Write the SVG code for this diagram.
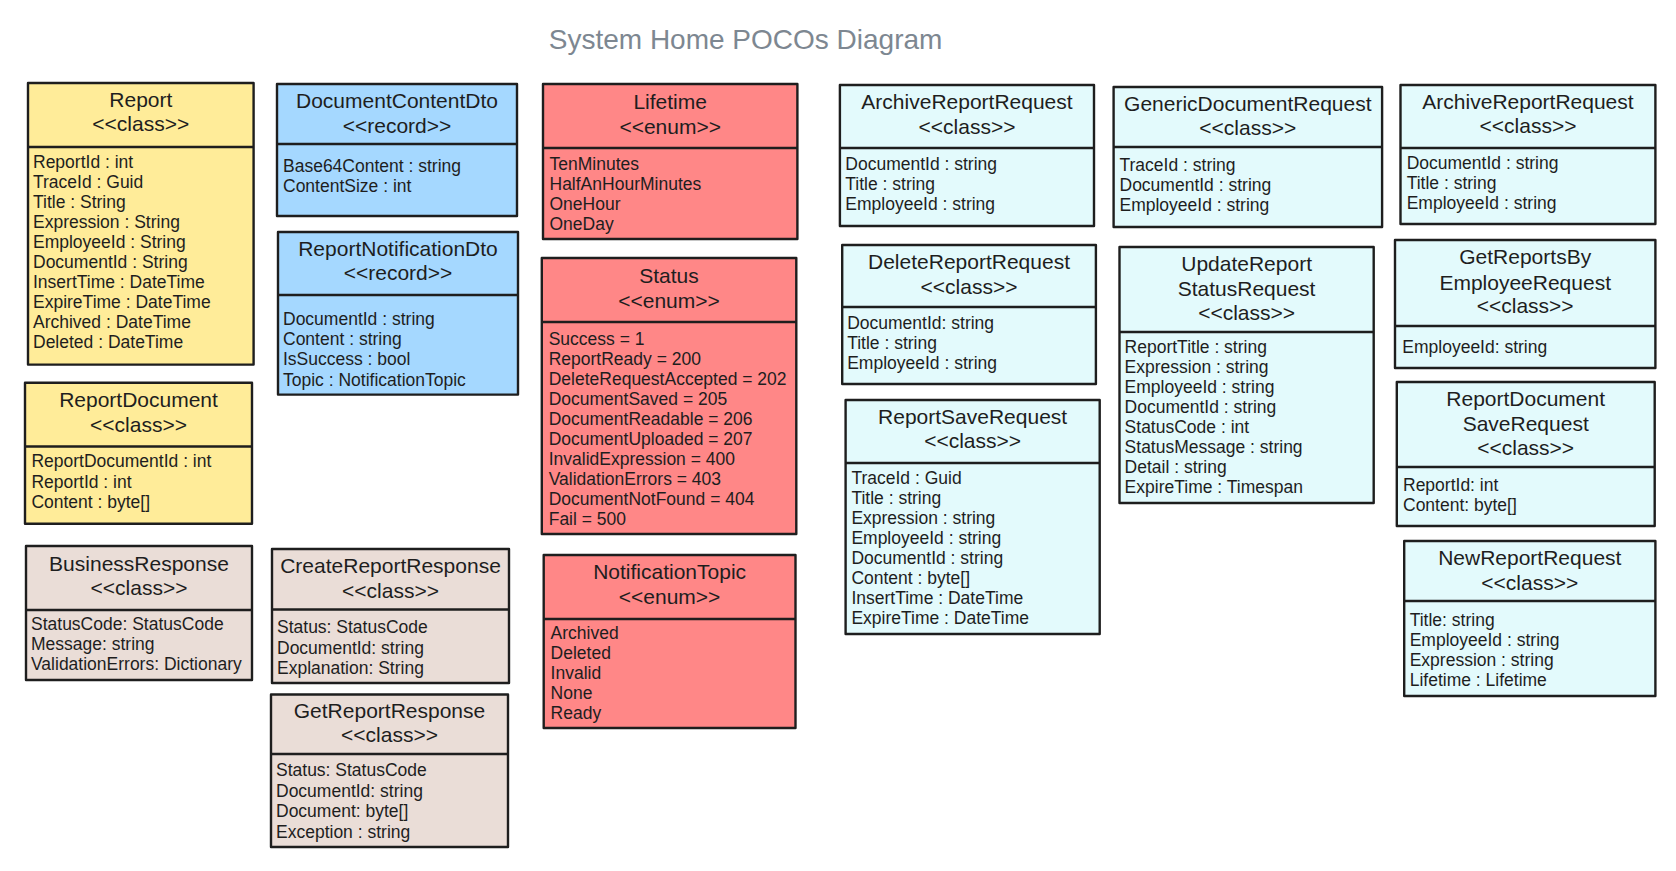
<svg xmlns="http://www.w3.org/2000/svg" width="1676" height="871" viewBox="0 0 1676 871">
<style>
.box{stroke:#1e1e1e;stroke-width:2.4;stroke-linejoin:round}
.div{stroke:#1e1e1e;stroke-width:2.4}
.yel{fill:#ffec99}.blu{fill:#a5d8ff}.red{fill:#ff8787}.cyn{fill:#e3fafc}.brn{fill:#eaddd7}
text{font-family:"Liberation Sans",Arial,sans-serif;fill:#1e1e1e}
.hd{font-size:21px;text-anchor:middle}
.at{font-size:17.5px}
.ttl{font-size:28px;fill:#7d8791;text-anchor:middle}
</style>
<rect width="1676" height="871" fill="#ffffff"/>
<text class="ttl" x="745.6" y="49">System Home POCOs Diagram</text>
<g id="connectors"/>

<g id="Report">
<rect class="box yel" x="28" y="83" width="225.6" height="281.6"/>
<line class="div" x1="28" y1="147" x2="253.6" y2="147"/>
<text class="hd" x="140.8" y="107">Report</text>
<text class="hd" x="140.8" y="131">&lt;&lt;class&gt;&gt;</text>
<text class="at" x="33" y="168">ReportId : int</text>
<text class="at" x="33" y="188">TraceId : Guid</text>
<text class="at" x="33" y="208">Title : String</text>
<text class="at" x="33" y="228">Expression : String</text>
<text class="at" x="33" y="248">EmployeeId : String</text>
<text class="at" x="33" y="268">DocumentId : String</text>
<text class="at" x="33" y="288">InsertTime : DateTime</text>
<text class="at" x="33" y="308">ExpireTime : DateTime</text>
<text class="at" x="33" y="328">Archived : DateTime</text>
<text class="at" x="33" y="348">Deleted : DateTime</text>
</g>

<g id="ReportDocument">
<rect class="box yel" x="25" y="382.7" width="227" height="141"/>
<line class="div" x1="25" y1="446.5" x2="252" y2="446.5"/>
<text class="hd" x="138.5" y="407">ReportDocument</text>
<text class="hd" x="138.5" y="432">&lt;&lt;class&gt;&gt;</text>
<text class="at" x="31.4" y="467">ReportDocumentId : int</text>
<text class="at" x="31.4" y="487.5">ReportId : int</text>
<text class="at" x="31.4" y="507.5">Content : byte[]</text>
</g>

<g id="BusinessResponse">
<rect class="box brn" x="26" y="546" width="226" height="134"/>
<line class="div" x1="26" y1="610" x2="252" y2="610"/>
<text class="hd" x="139" y="570.5">BusinessResponse</text>
<text class="hd" x="139" y="595">&lt;&lt;class&gt;&gt;</text>
<text class="at" x="31" y="629.5">StatusCode: StatusCode</text>
<text class="at" x="31" y="650">Message: string</text>
<text class="at" x="31" y="669.5">ValidationErrors: Dictionary</text>
</g>

<g id="DocumentContentDto">
<rect class="box blu" x="277" y="84" width="240" height="132"/>
<line class="div" x1="277" y1="144" x2="517" y2="144"/>
<text class="hd" x="397" y="108">DocumentContentDto</text>
<text class="hd" x="397" y="133">&lt;&lt;record&gt;&gt;</text>
<text class="at" x="283" y="172">Base64Content : string</text>
<text class="at" x="283" y="192">ContentSize : int</text>
</g>

<g id="ReportNotificationDto">
<rect class="box blu" x="278" y="232" width="240" height="162.6"/>
<line class="div" x1="278" y1="295" x2="518" y2="295"/>
<text class="hd" x="398" y="256">ReportNotificationDto</text>
<text class="hd" x="398" y="280">&lt;&lt;record&gt;&gt;</text>
<text class="at" x="283" y="325">DocumentId : string</text>
<text class="at" x="283" y="345">Content : string</text>
<text class="at" x="283" y="364.5">IsSuccess : bool</text>
<text class="at" x="283" y="385.5">Topic : NotificationTopic</text>
</g>

<g id="CreateReportResponse">
<rect class="box brn" x="272" y="549" width="237" height="134"/>
<line class="div" x1="272" y1="609.5" x2="509" y2="609.5"/>
<text class="hd" x="390.5" y="573">CreateReportResponse</text>
<text class="hd" x="390.5" y="598">&lt;&lt;class&gt;&gt;</text>
<text class="at" x="277" y="633">Status: StatusCode</text>
<text class="at" x="277" y="653.5">DocumentId: string</text>
<text class="at" x="277" y="674">Explanation: String</text>
</g>

<g id="GetReportResponse">
<rect class="box brn" x="271" y="694.5" width="237" height="152.5"/>
<line class="div" x1="271" y1="754" x2="508" y2="754"/>
<text class="hd" x="389.5" y="718">GetReportResponse</text>
<text class="hd" x="389.5" y="742">&lt;&lt;class&gt;&gt;</text>
<text class="at" x="276" y="776">Status: StatusCode</text>
<text class="at" x="276" y="796.5">DocumentId: string</text>
<text class="at" x="276" y="817">Document: byte[]</text>
<text class="at" x="276" y="837.5">Exception : string</text>
</g>

<g id="Lifetime">
<rect class="box red" x="543" y="84" width="254.4" height="155"/>
<line class="div" x1="543" y1="148" x2="797.4" y2="148"/>
<text class="hd" x="670.2" y="109">Lifetime</text>
<text class="hd" x="670.2" y="134">&lt;&lt;enum&gt;&gt;</text>
<text class="at" x="549.5" y="170">TenMinutes</text>
<text class="at" x="549.5" y="190">HalfAnHourMinutes</text>
<text class="at" x="549.5" y="210">OneHour</text>
<text class="at" x="549.5" y="230">OneDay</text>
</g>

<g id="Status">
<rect class="box red" x="541.8" y="258" width="254.5" height="276"/>
<line class="div" x1="541.8" y1="322" x2="796.3" y2="322"/>
<text class="hd" x="669" y="283">Status</text>
<text class="hd" x="669" y="308">&lt;&lt;enum&gt;&gt;</text>
<text class="at" x="548.7" y="345">Success = 1</text>
<text class="at" x="548.7" y="365">ReportReady = 200</text>
<text class="at" x="548.7" y="385">DeleteRequestAccepted = 202</text>
<text class="at" x="548.7" y="405">DocumentSaved = 205</text>
<text class="at" x="548.7" y="425">DocumentReadable = 206</text>
<text class="at" x="548.7" y="445">DocumentUploaded = 207</text>
<text class="at" x="548.7" y="465">InvalidExpression = 400</text>
<text class="at" x="548.7" y="485">ValidationErrors = 403</text>
<text class="at" x="548.7" y="505">DocumentNotFound = 404</text>
<text class="at" x="548.7" y="525">Fail = 500</text>
</g>

<g id="NotificationTopic">
<rect class="box red" x="543.7" y="555" width="251.8" height="173"/>
<line class="div" x1="543.7" y1="619" x2="795.5" y2="619"/>
<text class="hd" x="669.6" y="579">NotificationTopic</text>
<text class="hd" x="669.6" y="604">&lt;&lt;enum&gt;&gt;</text>
<text class="at" x="550.6" y="639">Archived</text>
<text class="at" x="550.6" y="659">Deleted</text>
<text class="at" x="550.6" y="679">Invalid</text>
<text class="at" x="550.6" y="699">None</text>
<text class="at" x="550.6" y="719">Ready</text>
</g>

<g id="ArchiveReportRequest1">
<rect class="box cyn" x="839.9" y="85" width="254.1" height="141"/>
<line class="div" x1="839.9" y1="148" x2="1094" y2="148"/>
<text class="hd" x="967" y="109">ArchiveReportRequest</text>
<text class="hd" x="967" y="134">&lt;&lt;class&gt;&gt;</text>
<text class="at" x="845.3" y="170">DocumentId : string</text>
<text class="at" x="845.3" y="190">Title : string</text>
<text class="at" x="845.3" y="210">EmployeeId : string</text>
</g>

<g id="DeleteReportRequest">
<rect class="box cyn" x="842.2" y="245" width="253.7" height="139"/>
<line class="div" x1="842.2" y1="307" x2="1095.9" y2="307"/>
<text class="hd" x="969" y="269">DeleteReportRequest</text>
<text class="hd" x="969" y="294">&lt;&lt;class&gt;&gt;</text>
<text class="at" x="847.2" y="329">DocumentId: string</text>
<text class="at" x="847.2" y="349">Title : string</text>
<text class="at" x="847.2" y="369">EmployeeId : string</text>
</g>

<g id="ReportSaveRequest">
<rect class="box cyn" x="845.6" y="400" width="254.1" height="234"/>
<line class="div" x1="845.6" y1="463" x2="1099.7" y2="463"/>
<text class="hd" x="972.6" y="424">ReportSaveRequest</text>
<text class="hd" x="972.6" y="448">&lt;&lt;class&gt;&gt;</text>
<text class="at" x="851.4" y="484">TraceId : Guid</text>
<text class="at" x="851.4" y="504">Title : string</text>
<text class="at" x="851.4" y="524">Expression : string</text>
<text class="at" x="851.4" y="544">EmployeeId : string</text>
<text class="at" x="851.4" y="564">DocumentId : string</text>
<text class="at" x="851.4" y="584">Content : byte[]</text>
<text class="at" x="851.4" y="604">InsertTime : DateTime</text>
<text class="at" x="851.4" y="624">ExpireTime : DateTime</text>
</g>

<g id="GenericDocumentRequest">
<rect class="box cyn" x="1113.6" y="87" width="268.5" height="140"/>
<line class="div" x1="1113.6" y1="147" x2="1382.1" y2="147"/>
<text class="hd" x="1247.8" y="111">GenericDocumentRequest</text>
<text class="hd" x="1247.8" y="135">&lt;&lt;class&gt;&gt;</text>
<text class="at" x="1119.5" y="171">TraceId : string</text>
<text class="at" x="1119.5" y="191">DocumentId : string</text>
<text class="at" x="1119.5" y="211">EmployeeId : string</text>
</g>

<g id="UpdateReportStatusRequest">
<rect class="box cyn" x="1119.5" y="247" width="254.2" height="256"/>
<line class="div" x1="1119.5" y1="332" x2="1373.7" y2="332"/>
<text class="hd" x="1246.6" y="271">UpdateReport</text>
<text class="hd" x="1246.6" y="296">StatusRequest</text>
<text class="hd" x="1246.6" y="320">&lt;&lt;class&gt;&gt;</text>
<text class="at" x="1124.6" y="353">ReportTitle : string</text>
<text class="at" x="1124.6" y="373">Expression : string</text>
<text class="at" x="1124.6" y="393">EmployeeId : string</text>
<text class="at" x="1124.6" y="413">DocumentId : string</text>
<text class="at" x="1124.6" y="433">StatusCode : int</text>
<text class="at" x="1124.6" y="453">StatusMessage : string</text>
<text class="at" x="1124.6" y="473">Detail : string</text>
<text class="at" x="1124.6" y="493">ExpireTime : Timespan</text>
</g>

<g id="ArchiveReportRequest2">
<rect class="box cyn" x="1400.5" y="85" width="254.9" height="139"/>
<line class="div" x1="1400.5" y1="148" x2="1655.4" y2="148"/>
<text class="hd" x="1528" y="109">ArchiveReportRequest</text>
<text class="hd" x="1528" y="133">&lt;&lt;class&gt;&gt;</text>
<text class="at" x="1406.7" y="169">DocumentId : string</text>
<text class="at" x="1406.7" y="189">Title : string</text>
<text class="at" x="1406.7" y="209">EmployeeId : string</text>
</g>

<g id="GetReportsByEmployeeRequest">
<rect class="box cyn" x="1395" y="240" width="260.4" height="128"/>
<line class="div" x1="1395" y1="326" x2="1655.4" y2="326"/>
<text class="hd" x="1525.2" y="264">GetReportsBy</text>
<text class="hd" x="1525.2" y="290">EmployeeRequest</text>
<text class="hd" x="1525.2" y="313">&lt;&lt;class&gt;&gt;</text>
<text class="at" x="1402.3" y="353">EmployeeId: string</text>
</g>

<g id="ReportDocumentSaveRequest">
<rect class="box cyn" x="1396.8" y="382" width="257.9" height="144"/>
<line class="div" x1="1396.8" y1="467" x2="1654.7" y2="467"/>
<text class="hd" x="1525.7" y="406">ReportDocument</text>
<text class="hd" x="1525.7" y="431">SaveRequest</text>
<text class="hd" x="1525.7" y="455">&lt;&lt;class&gt;&gt;</text>
<text class="at" x="1403" y="491">ReportId: int</text>
<text class="at" x="1403" y="511">Content: byte[]</text>
</g>

<g id="NewReportRequest">
<rect class="box cyn" x="1404.2" y="541" width="251.2" height="155"/>
<line class="div" x1="1404.2" y1="601" x2="1655.4" y2="601"/>
<text class="hd" x="1529.8" y="565">NewReportRequest</text>
<text class="hd" x="1529.8" y="590">&lt;&lt;class&gt;&gt;</text>
<text class="at" x="1409.7" y="626">Title: string</text>
<text class="at" x="1409.7" y="646">EmployeeId : string</text>
<text class="at" x="1409.7" y="666">Expression : string</text>
<text class="at" x="1409.7" y="686">Lifetime : Lifetime</text>
</g>
</svg>
